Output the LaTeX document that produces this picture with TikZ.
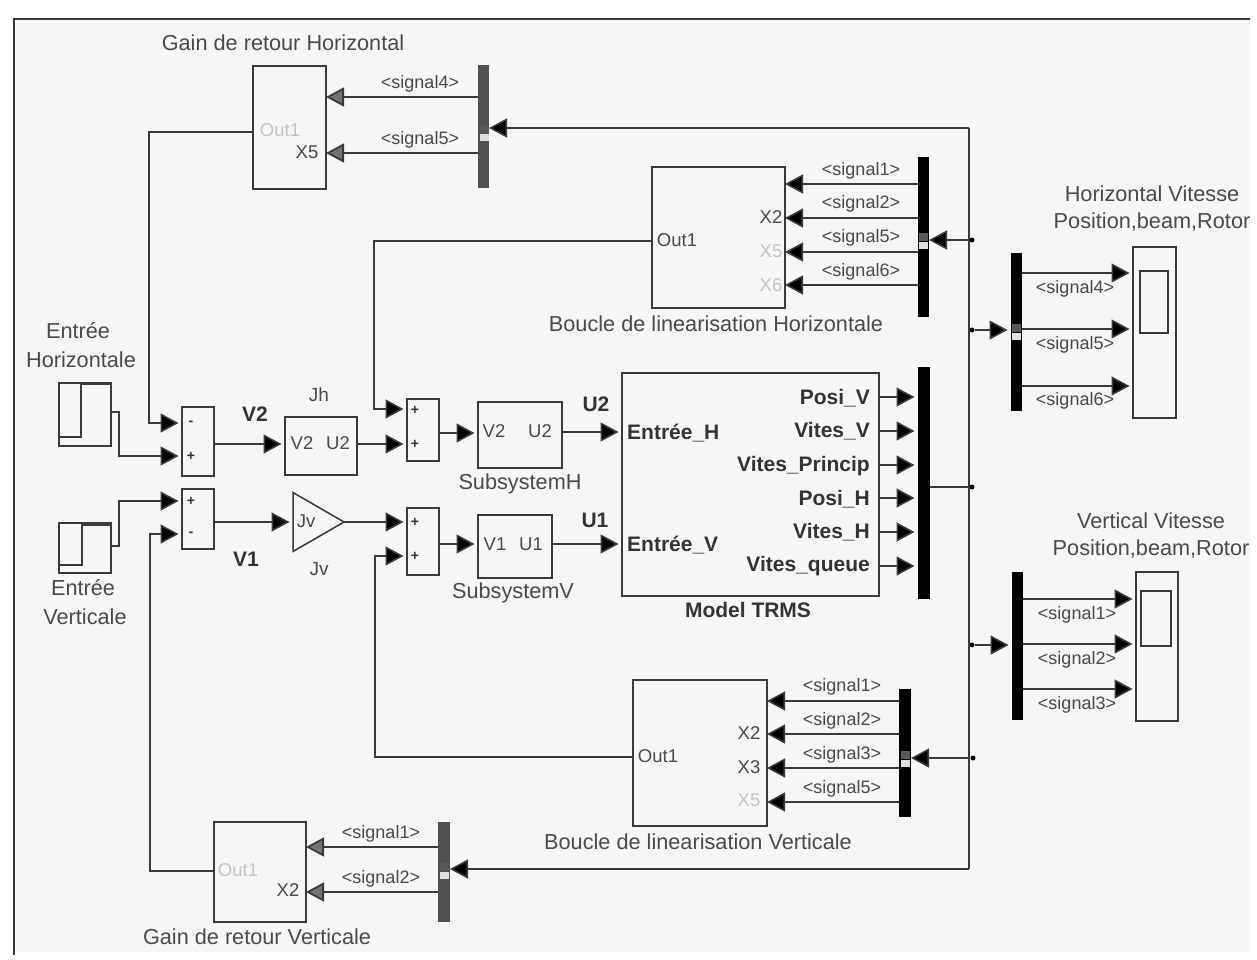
\documentclass[tikz,border=0pt]{standalone}
\usepackage{fontspec}
\setmainfont{Liberation Sans}
\usetikzlibrary{arrows.meta,shapes.geometric}
\definecolor{bgc}{HTML}{F6F6F6}
\definecolor{ink}{HTML}{3A3A3A}
\definecolor{txt}{HTML}{4A4A4A}
\definecolor{faint}{HTML}{C4C4C4}
\definecolor{greybus}{HTML}{505050}
\newcommand\blk[6][]{\node[blockbox,#1,minimum width={(#4-#2)*1pt},minimum height={(#5-#3)*1pt}] (#6) at ({(#2+#4)/2},{(#3+#5)/2}) {};}
\newcommand\selmark[2]{\fill[gray!70!black] (#1-4.5,#2-7) rectangle (#1+4.5,#2+1); \fill[gray!25] (#1-4.5,#2+2) rectangle (#1+4.5,#2+9);}
\tikzset{
 blockbox/.style={draw=ink,line width=1.5pt,rectangle,inner sep=0pt,outer sep=0pt},
 busbar/.style={fill=black,draw=none},
 gbusbar/.style={fill=greybus,draw=none},
 wire/.style={draw=ink,line width=1.6pt},
 arr/.style={wire,-{Triangle[length=18pt,width=19pt,fill=black]},shorten >=3.5pt},
 tarr/.style={wire,-{Triangle[length=18pt,width=19pt,fill=black]}},
 garr/.style={draw=ink,line width=1.8pt,-{Triangle[length=18pt,width=19pt,fill=gray!90!black]}},
 lab/.style={text=txt,inner sep=0pt,font=\fontsize{21.7}{24}\selectfont},
 sig/.style={text=txt,inner sep=0pt,yshift=-1.5pt,font=\fontsize{18}{20}\selectfont},
 port/.style={text=txt,inner sep=0pt,font=\fontsize{18.5}{20}\selectfont},
 fport/.style={text=faint,inner sep=0pt,font=\fontsize{18.5}{20}\selectfont},
 bold/.style={text=black!80,inner sep=0pt,font=\fontsize{21}{23}\selectfont\bfseries},
 sign/.style={text=black!80,inner sep=0pt,font=\fontsize{14}{14}\selectfont\bfseries},
 dot/.style={circle,fill=black,inner sep=0pt,minimum size=5pt},
}
\begin{document}
\begin{tikzpicture}[x=1pt,y=-1pt]
\useasboundingbox (0,0) rectangle (1257,959);
\fill[white] (0,0) rectangle (1257,959);
\fill[bgc] (14,19) rectangle (1250,952);
\draw[ink,line width=1.5pt] (1250,19) -- (14,19) -- (14,955);

% gain de retour horizontal
\blk{253}{66}{326}{189}{gh}
\blk[gbusbar]{478}{65}{489}{188}{gbh}
\node[lab] (tgh) at (283,43) {Gain de retour Horizontal};
\node[fport] (tghout) at (280,130) {Out1};
\node[port] (tghx) at (307,152) {X5};
\node[sig] (sgh1) at (420,82) {<signal4>};
\node[sig] (sgh2) at (420,138) {<signal5>};
\selmark{484}{132}

% gain de retour vertical
\blk{214}{822}{306}{922}{gv}
\blk[gbusbar]{438}{822}{450}{922}{gbv}
\node[lab] (tgv) at (257,937) {Gain de retour Verticale};
\node[fport] (tgvout) at (238,870) {Out1};
\node[port] (tgvx) at (288,890) {X2};
\node[sig] (sgv1) at (381,832) {<signal1>};
\node[sig] (sgv2) at (381,877) {<signal2>};
\selmark{444}{870}

% boucle horizontale
\blk{652}{167}{785}{308}{bh}
\blk[busbar]{918}{157}{929}{317}{bbh}
\node[lab] (tbh) at (716,324) {Boucle de linearisation Horizontale};
\node[port] (tbhout) at (677,240) {Out1};
\node[port] (tbhx2) at (771,217) {X2};
\node[fport] (tbhx5) at (771,251) {X5};
\node[fport] (tbhx6) at (771,285) {X6};
\node[sig] (sbh1) at (861,169) {<signal1>};
\node[sig] (sbh2) at (861,202) {<signal2>};
\node[sig] (sbh3) at (861,236) {<signal5>};
\node[sig] (sbh4) at (861,270) {<signal6>};
\selmark{923}{240}

% boucle verticale
\blk{633}{680}{767}{826}{bv}
\blk[busbar]{899}{689}{911}{817}{bbv}
\node[lab] (tbv) at (698,842) {Boucle de linearisation Verticale};
\node[port] (tbvout) at (658,756) {Out1};
\node[port] (tbvx2) at (749,733) {X2};
\node[port] (tbvx3) at (749,767) {X3};
\node[fport] (tbvx5) at (749,800) {X5};
\node[sig] (sbv1) at (842,685) {<signal1>};
\node[sig] (sbv2) at (842,719) {<signal2>};
\node[sig] (sbv3) at (842,753) {<signal3>};
\node[sig] (sbv4) at (842,787) {<signal5>};
\selmark{905}{758}

% sources
\blk{59}{383}{111}{446}{sh}
\draw[ink,line width=1.5pt] (59,437) -- (81,437) -- (81,384) -- (110,384);
\blk{59}{523}{111}{573}{sv}
\draw[ink,line width=1.5pt] (59,565) -- (82,565) -- (82,525) -- (110,525);
\node[lab] (tsh1) at (78,331) {Entrée};
\node[lab] (tsh2) at (81,360) {Horizontale};
\node[lab] (tsv1) at (83,588) {Entrée};
\node[lab] (tsv2) at (85,617) {Verticale};

% sums
\blk{182}{407}{214}{476}{s1}
\blk{182}{489}{214}{549}{s2}
\blk{407}{399}{439}{461}{s3}
\blk{407}{508}{439}{575}{s4}
\node[sign] (s1a) at (191,423) {-};
\node[sign] (s1b) at (191,456) {+};
\node[sign] (s2a) at (191,501) {+};
\node[sign] (s2b) at (191,534) {-};
\node[sign] (s3a) at (415,410) {+};
\node[sign] (s3b) at (415,444) {+};
\node[sign] (s4a) at (415,522) {+};
\node[sign] (s4b) at (415,556) {+};

% Jh and Jv
\blk{285}{417}{357}{475}{jh}
\node[port] (jhi) at (302,443) {V2};
\node[port] (jho) at (338,443) {U2};
\node[lab,font=\fontsize{19}{21}\selectfont] (tjh) at (319,395) {Jh};
\node[draw=ink,line width=1.5pt,isosceles triangle,isosceles triangle apex angle=60,isosceles triangle stretches,inner sep=0pt,outer sep=0pt,minimum width=59pt,minimum height=51pt,anchor=apex] (jv) at (344,522) {};
\node[port] (jvi) at (306,521) {Jv};
\node[lab,font=\fontsize{19}{21}\selectfont] (tjv) at (319,569) {Jv};
\node[bold] (tv2) at (255,414) {V2};
\node[bold] (tv1) at (246,559) {V1};

% subsystems
\blk{478}{402}{562}{468}{sbsh}
\node[port] (sbshi) at (494,431) {V2};
\node[port] (sbsho) at (540,431) {U2};
\node[lab] (tsbsh) at (520,484) {SubsystemH};
\node[bold] (tu2) at (596,404) {U2};
\blk{478}{515}{552}{578}{sbsv}
\node[port] (sbsvi) at (495,544) {V1};
\node[port] (sbsvo) at (531,544) {U1};
\node[lab] (tsbsv) at (513,593) {SubsystemV};
\node[bold] (tu1) at (595,520) {U1};

% model
\blk{622}{373}{879}{596}{model}
\node[bold,anchor=west] (mi1) at (627,433) {Entrée\_H};
\node[bold,anchor=west] (mi2) at (627,545) {Entrée\_V};
\node[bold,anchor=east] (mo1) at (870,398) {Posi\_V};
\node[bold,anchor=east] (mo2) at (870,431) {Vites\_V};
\node[bold,anchor=east] (mo3) at (870,466) {Vites\_Princip};
\node[bold,anchor=east] (mo4) at (870,499) {Posi\_H};
\node[bold,anchor=east] (mo5) at (870,532) {Vites\_H};
\node[bold,anchor=east] (mo6) at (870,566) {Vites\_queue};
\node[bold] (tmodel) at (748,610) {Model TRMS};
\blk[busbar]{918}{367}{930}{599}{mbus}

% right bus 1 and scope
\blk[busbar]{1011}{253}{1022}{411}{rb1}
\blk{1133}{247}{1176}{418}{sc1}
\blk{1140}{271}{1168}{333}{sc1s}
\node[lab] (tsc1a) at (1152,194) {Horizontal Vitesse};
\node[lab] (tsc1b) at (1152,222) {Position,beam,Rotor};
\node[sig] (sr11) at (1075,287) {<signal4>};
\node[sig] (sr12) at (1075,343) {<signal5>};
\node[sig] (sr13) at (1075,399) {<signal6>};
\selmark{1016}{331}

% right bus 2 and scope
\blk[busbar]{1012}{572}{1023}{720}{rb2}
\blk{1136}{572}{1178}{721}{sc2}
\blk{1141}{591}{1171}{646}{sc2s}
\node[lab] (tsc2a) at (1151,521) {Vertical Vitesse};
\node[lab] (tsc2b) at (1151,549) {Position,beam,Rotor};
\node[sig] (sr21) at (1077,613) {<signal1>};
\node[sig] (sr22) at (1077,658) {<signal2>};
\node[sig] (sr23) at (1077,703) {<signal3>};

% junction points
\coordinate (ctop) at (969,128);
\coordinate (cbot) at (969,869);
\node[dot] (j1) at (972,240) {};
\node[dot] (j2) at (972,330) {};
\node[dot] (j3) at (972,487) {};
\node[dot] (j4) at (972,645) {};
\node[dot] (j5) at (973,758) {};

% trunk
\draw[wire] (ctop) -- (cbot);
\draw[tarr] (ctop) -- (gbh.east |- ctop);
\draw[tarr] (cbot) -- (gbv.east |- cbot);
\draw[tarr] (j1) -- (bbh.east |- j1);
\draw[arr] (j2) -- (rb1.west |- j2);
\draw[wire] (mbus.east |- j3) -- (j3);
\draw[arr] (j4) -- (rb2.west |- j4);
\draw[tarr] (j5) -- (bbv.east |- j5);

% gain buses to blocks
\draw[garr] (gbh.west |- 0,97) -- (gh.east |- 0,97);
\draw[garr] (gbh.west |- 0,153) -- (gh.east |- 0,153);
\draw[garr] (gbv.west |- 0,847) -- (gv.east |- 0,847);
\draw[garr] (gbv.west |- 0,892) -- (gv.east |- 0,892);
% boucle buses to blocks
\draw[tarr] (bbh.west |- 0,184) -- (bh.east |- 0,184);
\draw[tarr] (bbh.west |- 0,218) -- (bh.east |- 0,218);
\draw[tarr] (bbh.west |- 0,252) -- (bh.east |- 0,252);
\draw[tarr] (bbh.west |- 0,285) -- (bh.east |- 0,285);
\draw[tarr] (bbv.west |- 0,701) -- (bv.east |- 0,701);
\draw[tarr] (bbv.west |- 0,734) -- (bv.east |- 0,734);
\draw[tarr] (bbv.west |- 0,768) -- (bv.east |- 0,768);
\draw[tarr] (bbv.west |- 0,802) -- (bv.east |- 0,802);
% feedback paths
\draw[arr] (gh.west |- 0,132) -| (149,423) -- (s1.west |- 0,423);
\draw[arr] (gv.west |- 0,871) -| (150,534) -- (s2.west |- 0,534);
\draw[arr] (bh.west |- 0,241) -| (374,409) -- (s3.west |- 0,409);
\draw[arr] (bv.west |- 0,757) -| (375,556) -- (s4.west |- 0,556);
% sources
\draw[arr] (sh.east |- 0,412) -| (119,456) -- (s1.west |- 0,456);
\draw[arr] (sv.east |- 0,546) -| (119,501) -- (s2.west |- 0,501);
% forward
\draw[arr] (s1.east |- 0,444) -- (jh.west |- 0,444);
\draw[arr] (jh.east |- 0,444) -- (s3.west |- 0,444);
\draw[arr] (s3.east |- 0,433) -- (sbsh.west |- 0,433);
\draw[arr] (sbsh.east |- 0,432) -- (model.west |- 0,432);
\draw[arr] (s2.east |- 0,522) -- (jv.lower side |- 0,522);
\draw[arr] (jv.apex) -- (s4.west |- jv.apex);
\draw[arr] (s4.east |- 0,544) -- (sbsv.west |- 0,544);
\draw[arr] (sbsv.east |- 0,544) -- (model.west |- 0,544);
% model outputs
\draw[arr] (model.east |- 0,397) -- (mbus.west |- 0,397);
\draw[arr] (model.east |- 0,431) -- (mbus.west |- 0,431);
\draw[arr] (model.east |- 0,465) -- (mbus.west |- 0,465);
\draw[arr] (model.east |- 0,498) -- (mbus.west |- 0,498);
\draw[arr] (model.east |- 0,532) -- (mbus.west |- 0,532);
\draw[arr] (model.east |- 0,566) -- (mbus.west |- 0,566);
% to scopes
\draw[arr] (rb1.east |- 0,273) -- (sc1.west |- 0,273);
\draw[arr] (rb1.east |- 0,329) -- (sc1.west |- 0,329);
\draw[arr] (rb1.east |- 0,386) -- (sc1.west |- 0,386);
\draw[arr] (rb2.east |- 0,599) -- (sc2.west |- 0,599);
\draw[arr] (rb2.east |- 0,644) -- (sc2.west |- 0,644);
\draw[arr] (rb2.east |- 0,689) -- (sc2.west |- 0,689);
\end{tikzpicture}
\end{document}
